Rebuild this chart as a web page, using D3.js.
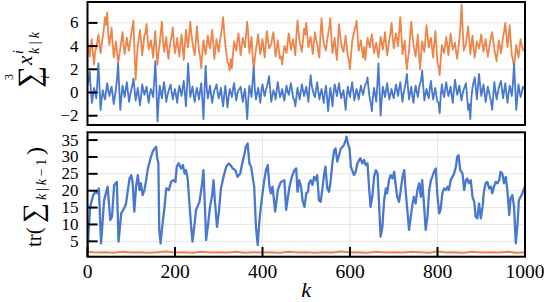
<!DOCTYPE html>
<html>
<head>
<meta charset="utf-8">
<script src="https://cdn.jsdelivr.net/npm/d3@7"></script>
<style>
body { margin: 0; background: #fff; }
text { font-family: "Liberation Serif", "DejaVu Serif", serif; fill: #000; }
</style>
</head>
<body>
<svg id="chart" width="544" height="302"></svg>
<script>
// top panel series: values at k = 0, 5, ..., 1000 and in between at k = 2.5, 7.5, ...
const step = 5;

const sumOrange = [
  4.3, 3.1, 4.6, 2.4, 3.9, 5.0, 3.4, 4.8, 6.5, 6.9,
  4.1, 5.6, 3.0, 4.4, 2.5, 3.8, 5.2, 3.3, 4.7, 3.6,
  5.1, 6.2, 1.1, 4.0, 5.4, 3.2, 4.9, 5.9, 3.7, 4.5,
  3.0, 5.3, 2.4, 4.2, 6.1, 3.5, 4.8, 2.9, 4.4, 5.6,
  3.4, 4.7, 3.1, 5.0, 2.8, 5.4, 3.9, 6.1, 4.3, 3.2,
  5.7, 3.6, 2.1, 4.5, 3.3, 4.9, 3.8, 5.4, 2.9, 4.6,
  3.5, 5.0, 6.5, 4.1, 2.6, 1.9, 2.1, 4.4, 3.6, 5.1,
  3.2, 4.7, 3.9, 6.1, 3.4, 4.8, 2.0, 3.7, 5.0, 3.3,
  4.6, 3.0, 5.3, 3.8, 4.2, 5.2, 3.1, 4.5, 2.9, 2.4,
  4.0, 3.4, 5.1, 3.7, 4.6, 3.2, 6.2, 4.4, 3.5, 5.5,
  6.0, 3.9, 4.8, 3.3, 5.2, 4.1, 3.0, 6.4, 4.3, 3.6,
  5.0, 6.4, 3.4, 4.7, 2.8, 5.9, 4.2, 3.5, 4.9, 3.1,
  2.0, 4.4, 5.3, 6.2, 3.6, 4.5, 3.0, 2.8, 4.7, 3.9,
  5.0, 3.4, 4.3, 3.0, 4.8, 3.7, 5.2, 3.2, 4.6, 6.0,
  3.8, 5.1, 4.0, 6.5, 3.3, 4.5, 2.0, 3.6, 6.1, 4.2,
  3.1, 5.0, 2.0, 4.4, 3.5, 5.8, 3.9, 4.7, 3.0, 5.3,
  2.6, 1.5, 4.1, 3.4, 4.8, 3.2, 5.1, 3.7, 4.3, 2.9,
  4.6, 7.6, 3.6, 4.2, 5.7, 3.3, 4.9, 3.0, 4.4, 3.8,
  5.0, 3.5, 4.6, 3.1, 4.3, 5.2, 3.7, 2.7, 4.5, 3.4,
  4.8, 6.0, 3.9, 5.8, 3.2, 2.2, 4.1, 3.0, 4.6, 3.7,
  3.5
];

const sumOrangeMid = [
  3.6, 4.0, 3.3, 3.5, 4.4, 4.1, 4.2, 5.5, 5.8, 5.0,
  4.8, 4.2, 3.7, 3.4, 3.2, 4.5, 4.0, 4.1, 4.0, 4.3,
  5.6, 3.5, 2.8, 4.7, 4.3, 4.0, 5.2, 4.6, 4.1, 3.8,
  4.2, 3.6, 3.5, 5.2, 4.6, 4.1, 3.7, 3.8, 4.9, 4.2,
  4.0, 3.8, 4.2, 3.9, 4.1, 4.5, 5.0, 5.0, 3.7, 4.4,
  4.5, 3.0, 3.4, 3.8, 4.1, 4.2, 4.6, 4.1, 3.8, 4.0,
  4.3, 5.6, 5.2, 3.4, 2.5, 2.9, 3.3, 4.0, 4.4, 4.2,
  4.0, 4.3, 5.0, 5.0, 4.1, 3.1, 3.0, 4.3, 4.1, 3.9,
  3.8, 4.2, 4.5, 4.0, 4.8, 4.0, 3.8, 3.6, 3.1, 3.3,
  3.7, 4.3, 4.4, 4.2, 3.9, 4.9, 5.1, 3.9, 4.5, 5.0,
  4.9, 4.4, 4.0, 4.3, 4.6, 3.5, 5.0, 5.1, 3.9, 4.4,
  5.6, 4.7, 4.1, 3.6, 4.4, 5.0, 3.8, 4.2, 4.0, 2.8,
  3.3, 4.9, 5.7, 4.8, 4.1, 3.7, 3.9, 3.8, 4.3, 4.5,
  4.2, 3.9, 3.6, 3.9, 4.3, 4.4, 4.1, 3.9, 5.1, 4.8,
  4.5, 4.6, 5.3, 4.9, 3.9, 3.1, 2.9, 4.9, 5.0, 3.6,
  4.0, 3.4, 3.2, 3.9, 4.7, 4.8, 4.4, 3.8, 4.2, 4.0,
  2.2, 2.9, 3.7, 4.1, 4.0, 4.2, 4.4, 4.0, 3.5, 3.8,
  5.8, 5.5, 3.9, 5.0, 4.5, 4.1, 3.9, 3.7, 4.1, 4.4,
  4.2, 4.1, 3.8, 3.7, 4.8, 4.4, 3.2, 3.6, 4.0, 4.1,
  5.3, 4.9, 4.8, 4.4, 2.8, 3.2, 3.5, 3.8, 4.1, 3.6
];

const sumBlue = [
  0.6, 1.8, -0.9, 0.4, -0.5, 2.5, -1.5, 0.2, -0.6, 0.8,
  -0.3, 0.5, -1.0, 0.3, 2.5, -1.5, 0.6, -0.4, 0.9, -0.8,
  0.2, 1.2, -0.7, 0.4, -1.1, 0.7, -0.2, 0.5, -0.9, 0.3,
  -0.4, 2.7, -2.5, 0.6, -0.5, 0.9, -0.8, 0.1, 0.7, -0.6,
  0.3, -0.9, 0.6, -0.3, 1.0, -1.2, 2.5, -0.4, 0.5, -0.8,
  0.4, -0.6, 0.8, -2.3, 2.3, -0.5, 0.6, -0.9, 0.2, 0.7,
  -0.5, 0.4, -1.2, 0.6, -1.3, 0.3, -0.4, 0.8, -0.7, 0.2,
  0.5, -0.8, 0.3, -2.3, 0.6, -0.4, 2.2, -0.6, 0.4, -0.9,
  0.7, -0.3, 0.5, 1.4, -0.8, 0.2, -0.6, 0.9, -0.4, 0.3,
  -0.7, 0.6, -0.2, 0.8, -0.5, -1.2, 0.4, -0.6, 0.7, -0.3,
  0.5, -0.8, 1.5, 0.2, -0.4, 0.9, -0.6, 0.3, -0.9, 0.6,
  -1.6, 0.4, -1.2, 0.7, -0.3, 0.8, -0.5, 0.2, -1.5, 0.5,
  -0.4, 0.9, -0.7, 0.3, -0.6, 0.6, -0.2, 0.7, 1.3, -0.5,
  -1.6, 0.4, -0.8, 2.5, -2.0, 0.5, -0.4, 0.8, -0.6, 0.3,
  -0.5, 0.7, -0.3, 0.9, -0.8, 0.4, 1.6, -0.6, 0.5, -0.9,
  0.6, -0.4, 0.8, 1.9, -0.7, 0.3, -0.5, 1.0, -0.6, 0.4,
  -0.8, -1.8, 0.7, -0.4, 0.9, -0.3, 0.5, -0.9, 1.1, -0.2,
  0.6, -0.7, 0.3, 0.8, -1.5, -2.3, 0.4, 1.3, -0.6, 1.6,
  -0.3, 0.7, -0.8, 0.5, -0.4, -1.5, 0.9, -0.6, 0.4, 1.0,
  -0.5, 0.8, -0.9, 0.6, -0.3, 2.5, -1.5, 0.7, -0.4, 0.5,
  0.2
];

const sumBlueMid = [
  1.1, 0.3, -0.3, 0.0, 0.9, 0.4, -0.5, -0.3, 0.1, 0.2,
  0.1, -0.2, -0.4, 1.2, 0.4, -0.4, 0.1, 0.3, 0.0, -0.2,
  0.6, 0.3, -0.2, -0.4, -0.3, 0.2, 0.2, -0.3, -0.1, 0.0,
  1.0, 0.4, -0.8, 0.0, 0.3, 0.1, -0.3, 0.4, 0.0, -0.1,
  -0.3, 0.0, 0.1, 0.4, -0.1, 0.5, 0.9, 0.1, -0.2, -0.1,
  -0.1, 0.2, -0.6, 0.1, 0.4, 0.0, -0.2, -0.3, 0.4, 0.0,
  -0.1, -0.5, -0.2, -0.3, -0.4, 0.0, 0.3, 0.0, -0.1, 0.3,
  -0.2, -0.1, -0.9, -0.6, 0.1, 1.0, 0.3, -0.1, -0.2, 0.2,
  0.1, 0.2, 0.9, 0.3, -0.3, -0.1, 0.2, 0.2, -0.1, -0.3,
  0.0, 0.1, 0.3, 0.2, -0.6, -0.4, -0.1, 0.1, 0.2, 0.1,
  -0.2, 0.5, 0.6, -0.2, 0.3, 0.1, -0.1, -0.3, 0.0, -0.4,
  -0.5, -0.3, 0.0, 0.2, 0.3, 0.0, -0.1, -0.6, -0.3, 0.0,
  0.3, 0.1, -0.2, -0.1, 0.1, 0.1, 0.3, 0.8, 0.3, -0.9,
  -0.4, -0.2, 0.7, 0.3, -0.6, 0.1, 0.2, 0.0, -0.1, -0.2,
  0.1, 0.2, 0.4, 0.0, -0.1, 0.9, 0.4, 0.0, -0.3, 0.0,
  0.1, 0.3, 1.0, 0.5, -0.1, -0.2, 0.4, 0.1, -0.1, -0.3,
  -0.9, -0.2, 0.0, 0.3, 0.2, 0.1, -0.3, 0.2, 0.4, 0.2,
  -0.1, -0.1, 0.5, -0.3, -1.0, -0.4, 0.9, 0.4, 0.5, 0.6,
  0.2, 0.0, -0.2, 0.1, -0.8, -0.2, 0.1, -0.1, 0.7, 0.2,
  0.2, -0.1, -0.1, 0.2, 0.9, 0.5, -0.4, 0.1, 0.0, 0.4
];

// trace of the predicted covariance, [k, value]
const traceBlue = [
  [0,2.2],[6,15.2],[13,18.7],[19,19.7],[23,19.2],[26,20.7],[31,4.4],[38,17.2],[46,21.2],[52,11.3],
  [56,12.3],[61,21.7],[67,22.6],[71,4.9],[77,13.3],[84,14.8],[88,16.2],[96,23.6],[100,24.6],[103,22.6],
  [107,13.8],[111,21.2],[115,24.6],[119,20.2],[122,22.2],[126,18.7],[130,20.2],[134,23.1],[138,26.6],[145,30.0],
  [149,31.5],[153,32.5],[157,33.0],[159,30.0],[162,28.1],[164,8.4],[167,4.4],[170,8.4],[176,15.2],[180,20.7],
  [186,20.2],[191,22.6],[196,23.1],[201,22.6],[204,27.1],[208,28.1],[214,26.6],[218,27.6],[222,25.1],[225,26.1],
  [229,23.6],[233,16.2],[237,9.3],[240,4.9],[244,9.3],[248,14.3],[256,16.7],[262,22.2],[265,26.1],[269,13.3],
  [271,5.4],[275,9.3],[280,15.2],[285,18.7],[288,23.1],[291,17.2],[296,9.3],[300,13.3],[305,20.7],[311,24.1],
  [317,27.1],[323,28.1],[327,27.6],[332,26.6],[338,26.1],[343,24.1],[349,25.1],[353,27.6],[359,31.0],[362,33.0],
  [366,34.0],[370,28.1],[374,27.1],[378,23.6],[381,21.2],[385,9.3],[389,3.9],[393,11.3],[399,18.2],[404,23.1],
  [408,26.1],[412,27.6],[416,21.2],[419,19.2],[423,21.2],[429,13.8],[435,20.2],[442,22.6],[450,23.1],[454,14.3],
  [461,20.7],[467,24.1],[473,26.1],[477,26.6],[480,19.7],[484,23.1],[488,21.2],[492,16.7],[496,15.2],[500,19.2],
  [504,19.7],[506,22.2],[510,23.1],[514,21.7],[518,24.1],[522,23.1],[525,24.6],[529,17.2],[533,16.7],[537,20.7],
  [541,25.1],[544,27.1],[548,20.7],[552,19.7],[556,23.1],[560,28.6],[564,32.0],[567,32.5],[571,28.6],[575,30.5],
  [579,32.5],[583,33.0],[586,33.5],[590,35.0],[592,36.0],[596,33.5],[599,32.5],[602,27.1],[605,26.1],[609,24.6],
  [613,25.6],[617,28.1],[621,29.1],[624,29.6],[628,28.1],[632,29.1],[636,27.6],[640,28.1],[644,20.2],[647,15.2],
  [651,18.2],[655,24.1],[659,26.1],[663,25.1],[666,17.2],[670,6.4],[674,9.3],[678,17.2],[682,20.7],[685,19.2],
  [689,23.1],[693,24.6],[697,23.6],[701,25.6],[704,22.2],[708,18.2],[712,16.7],[716,20.2],[720,24.1],[724,26.1],
  [727,20.2],[731,14.3],[735,8.4],[739,12.3],[743,16.2],[746,18.2],[750,16.2],[754,20.2],[758,22.2],[762,18.2],
  [765,23.1],[769,16.2],[773,8.4],[777,12.3],[781,20.2],[785,23.1],[788,24.1],[792,25.6],[796,26.6],[800,18.2],
  [804,13.3],[807,14.3],[811,19.2],[815,20.7],[819,20.2],[823,21.2],[826,20.2],[830,23.1],[834,24.1],[838,25.1],
  [842,27.1],[845,30.0],[848,30.5],[852,26.1],[857,25.1],[861,20.2],[865,23.1],[868,23.6],[872,22.2],[876,23.1],
  [880,18.2],[884,16.7],[887,12.3],[891,11.8],[895,16.2],[899,11.8],[903,15.2],[906,19.7],[910,22.2],[914,22.6],
  [918,20.7],[922,21.2],[925,19.2],[929,21.2],[933,22.6],[937,22.2],[941,23.1],[944,25.6],[948,25.1],[952,22.2],
  [956,24.1],[960,19.7],[964,12.8],[967,17.7],[971,18.7],[975,15.2],[979,4.4],[983,10.3],[986,17.2],[990,18.2],
  [994,19.2],[998,20.7],[1000,21.2]
];

// orange trace, every 20 steps
const traceStep = 20;
const traceOrange = [
  1.9, 1.7, 1.8, 1.6, 1.9, 1.7, 1.8, 1.6, 1.8, 2.0,
  1.7, 1.8, 1.6, 1.9, 1.7, 1.8, 1.7, 1.9, 1.6, 1.8,
  1.7, 1.8, 1.6, 1.9, 1.7, 1.8, 1.6, 1.8, 1.7, 2.0,
  1.7, 1.8, 1.6, 1.9, 1.7, 1.8, 1.7, 1.9, 1.8, 1.6,
  2.0, 1.7, 1.8, 1.6, 1.9, 1.7, 1.8, 1.7, 1.9, 1.6,
  1.7
];

const xTicks = [0, 200, 400, 600, 800, 1000];
const topTicks = [-2, 0, 2, 4, 6];
const bottomTicks = [5, 10, 15, 20, 25, 30, 35];

const orange = "#ee854a";
const blue = "#4878d0";

const left = 87.5, right = 525;

const svg = d3.select("#chart");

const x = d3.scaleLinear().domain([0, 1000]).range([left, right]);
const yTop = d3.scaleLinear().domain([-2.8, 7.8]).range([125, 2]);
const yBot = d3.scaleLinear().domain([0.45, 37.3]).range([256.7, 132.3]);

const fmt = d => d < 0 ? "\u2212" + Math.abs(d) : String(d);

// merge the on-grid and half-step values into [k, v] pairs
function merge(a, mid) {
  const out = [];
  a.forEach((v, i) => {
    out.push([i * step, v]);
    if (i < mid.length) out.push([i * step + step / 2, mid[i]]);
  });
  return out;
}

function panel(y, ticks, id, vgrid) {
  const [y1, y0] = y.range();
  const g = svg.append("g");

  svg.append("clipPath").attr("id", id)
    .append("rect")
    .attr("x", left).attr("y", y0)
    .attr("width", right - left).attr("height", y1 - y0);

  g.selectAll(".hg").data(ticks).enter().append("line")
    .attr("x1", left).attr("x2", right)
    .attr("y1", d => y(d)).attr("y2", d => y(d))
    .attr("stroke", "#e6e6e6").attr("stroke-width", 1);
  if (vgrid) {
    g.selectAll(".vg").data(xTicks).enter().append("line")
      .attr("x1", d => x(d)).attr("x2", d => x(d))
      .attr("y1", y0).attr("y2", y1)
      .attr("stroke", "#e6e6e6").attr("stroke-width", 1);
  }
  return g;
}

function frame(y, ticks) {
  const [y1, y0] = y.range();
  const g = svg.append("g");
  g.selectAll(".yt").data(ticks).enter().append("line")
    .attr("x1", left).attr("x2", left + 10)
    .attr("y1", d => y(d)).attr("y2", d => y(d))
    .attr("stroke", "#000").attr("stroke-width", 2);
  g.selectAll(".yl").data(ticks).enter().append("text")
    .attr("x", left - 9).attr("y", d => y(d) + 5.5)
    .attr("text-anchor", "end")
    .attr("font-size", 17)
    .text(fmt);
  g.append("rect")
    .attr("x", left).attr("y", y0)
    .attr("width", right - left).attr("height", y1 - y0)
    .attr("fill", "none").attr("stroke", "#000").attr("stroke-width", 2);
  return g;
}

// top panel
const gTop = panel(yTop, topTicks, "clipTop", false);
const lineTop = d3.line().x(d => x(d[0])).y(d => yTop(d[1]));
gTop.append("path").datum(merge(sumOrange, sumOrangeMid))
  .attr("d", lineTop).attr("fill", "none")
  .attr("stroke", orange).attr("stroke-width", 1.8)
  .attr("stroke-linejoin", "round")
  .attr("clip-path", "url(#clipTop)");
gTop.append("path").datum(merge(sumBlue, sumBlueMid))
  .attr("d", lineTop).attr("fill", "none")
  .attr("stroke", blue).attr("stroke-width", 1.8)
  .attr("stroke-linejoin", "round")
  .attr("clip-path", "url(#clipTop)");
frame(yTop, topTicks);

// bottom panel
const gBot = panel(yBot, bottomTicks, "clipBot", true);
gBot.append("path").datum(traceOrange)
  .attr("d", d3.line().x((d, i) => x(i * traceStep)).y(d => yBot(d)))
  .attr("fill", "none").attr("stroke", orange).attr("stroke-width", 2)
  .attr("clip-path", "url(#clipBot)");
gBot.append("path").datum(traceBlue)
  .attr("d", d3.line().x(d => x(d[0])).y(d => yBot(d[1])))
  .attr("fill", "none").attr("stroke", blue).attr("stroke-width", 2.3)
  .attr("stroke-linejoin", "round")
  .attr("clip-path", "url(#clipBot)");
const fBot = frame(yBot, bottomTicks);

// x ticks on the bottom panel
fBot.selectAll(".xt").data(xTicks).enter().append("line")
  .attr("x1", d => x(d)).attr("x2", d => x(d))
  .attr("y1", 256.7).attr("y2", 247)
  .attr("stroke", "#000").attr("stroke-width", 2);
fBot.selectAll(".xl").data(xTicks).enter().append("text")
  .attr("x", d => x(d)).attr("y", 278)
  .attr("text-anchor", "middle")
  .attr("font-size", 19.5)
  .text(d => d);

// x label
svg.append("text")
  .attr("x", (left + right) / 2).attr("y", 297)
  .attr("text-anchor", "middle")
  .attr("font-size", 22).attr("font-style", "italic")
  .text("k");

// y label, top
const lt = svg.append("g").attr("transform", "translate(32,88) rotate(-90)");
lt.append("text").attr("x", 0).attr("y", 7).attr("font-size", 31).text("\u2211");
lt.append("text").attr("x", 11).attr("y", -19).attr("font-size", 12)
  .attr("text-anchor", "middle").text("3");
lt.append("text").attr("x", 11).attr("y", 17).attr("font-size", 12)
  .attr("text-anchor", "middle").attr("font-style", "italic").text("i");
lt.append("text").attr("x", 23).attr("y", 0).attr("font-size", 21)
  .attr("font-style", "italic").text("x");
lt.append("text").attr("x", 34).attr("y", -9).attr("font-size", 14)
  .attr("font-style", "italic").text("i");
lt.append("text").attr("x", 34).attr("y", 7).attr("font-size", 14)
  .attr("font-style", "italic").text("k\u2009|\u2009k");

// y label, bottom
const lb = svg.append("g").attr("transform", "translate(41,247) rotate(-90)");
lb.append("text").attr("x", 0).attr("y", 0).attr("font-size", 21).text("tr(");
lb.append("text").attr("x", 24).attr("y", 1).attr("font-size", 28).text("\u2211");
const sub = lb.append("text").attr("x", 47).attr("y", 5).attr("font-size", 14);
sub.append("tspan").attr("font-style", "italic").text("k");
sub.append("tspan").text("\u2009|\u2009");
sub.append("tspan").attr("font-style", "italic").text("k");
sub.append("tspan").text("\u2009\u2212\u20091");
lb.append("text").attr("x", 92).attr("y", 2).attr("font-size", 24).text(")");
</script>
</body>
</html>
